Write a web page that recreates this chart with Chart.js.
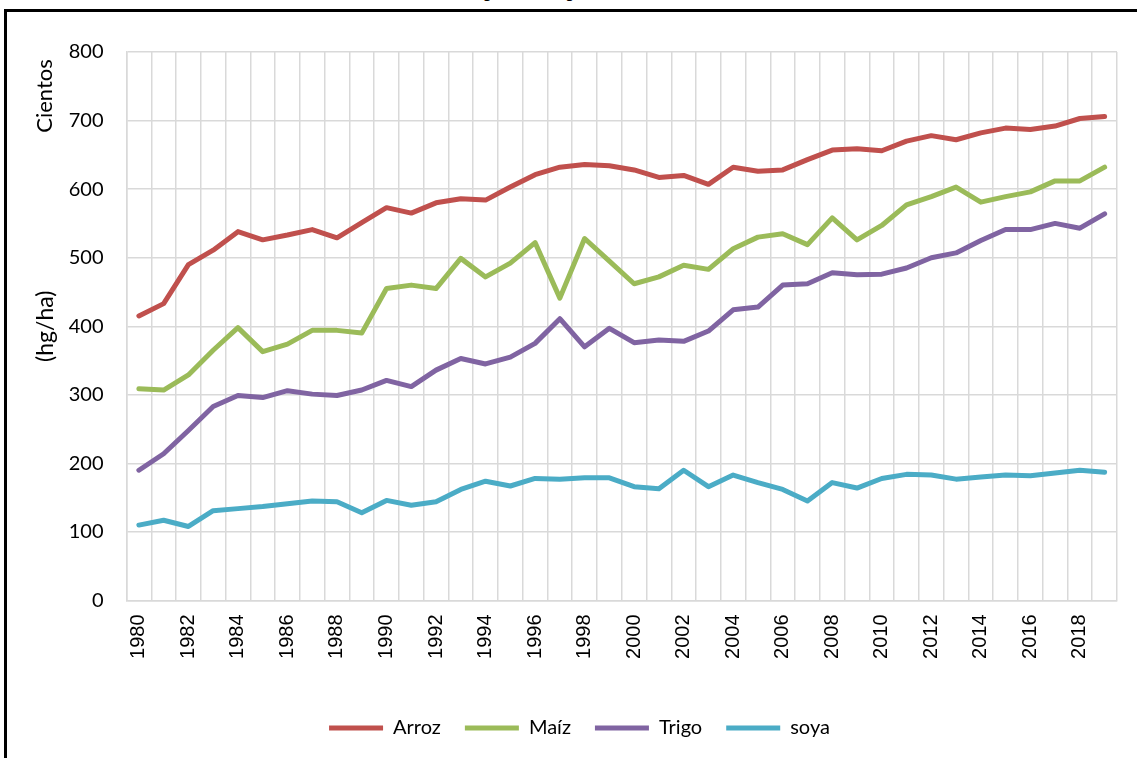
<!DOCTYPE html>
<html>
<head>
<meta charset="utf-8">
<script src="https://cdn.jsdelivr.net/npm/chart.js@4.4.1/dist/chart.umd.min.js"></script>
<style>
  html, body { margin: 0; padding: 0; background: #fff; overflow: hidden; }
  #wrap { position: relative; width: 1137px; height: 758px; overflow: hidden; }
  #frame { position: absolute; left: 4px; top: 9px; width: 1300px; height: 900px; border-left: 3px solid #000; border-top: 3px solid #000; }
  #title { position: absolute; left: 375px; top: -20px; line-height: 19px; font: bold 19px "Liberation Serif", "Times New Roman", serif; white-space: nowrap; }
  #chart { position: absolute; left: 0; top: 0; }
</style>
</head>
<body>
<div id="wrap">
  <div id="title">Rendimiento promedio por cultivo</div>
  <div id="frame"></div>
  <canvas id="chart" width="1137" height="758"></canvas>
</div>
<script>
const years = ["1980", "1981", "1982", "1983", "1984", "1985", "1986", "1987", "1988", "1989",
  "1990", "1991", "1992", "1993", "1994", "1995", "1996", "1997", "1998", "1999",
  "2000", "2001", "2002", "2003", "2004", "2005", "2006", "2007", "2008", "2009",
  "2010", "2011", "2012", "2013", "2014", "2015", "2016", "2017", "2018", "2019"];

const arroz = [415, 433, 490, 511, 538, 526, 533, 541, 529, 551, 573, 565, 580, 586, 584, 603, 621, 632, 636, 634,
  628, 617, 620, 607, 632, 626, 628, 643, 657, 659, 656, 670, 678, 672, 682, 689, 687, 692, 703, 706];
const maiz = [309, 307, 329, 365, 398, 363, 374, 394, 394, 390, 455, 460, 455, 499, 472, 492, 522, 441, 528, 495,
  462, 472, 489, 483, 513, 530, 535, 519, 558, 526, 547, 577, 589, 603, 581, 589, 596, 612, 612, 632];
const trigo = [190, 214, 248, 283, 299, 296, 306, 301, 299, 307, 321, 312, 336, 353, 345, 355, 375, 411, 370, 397,
  376, 380, 378, 393, 424, 428, 460, 462, 478, 475, 476, 485, 500, 507, 525, 541, 541, 550, 543, 564];
const soya = [110, 117, 108, 131, 134, 137, 141, 145, 144, 128, 146, 139, 144, 162, 174, 167, 178, 177, 179, 179,
  166, 163, 190, 166, 183, 172, 162, 145, 172, 164, 178, 184, 183, 177, 180, 183, 182, 186, 190, 187];

const seriesNames = ["Arroz", "Maíz", "Trigo", "soya"];
const seriesColors = ["#c0504d", "#9bbb59", "#8064a2", "#4bacc6"];
const yMin = 0;
const yMax = 800;
const yStep = 100;

const labelFont = "Lato, 'Noto Sans', sans-serif";
const gridColor = "#d9d9d9";

function lineDataset(name, values, color) {
  return {
    label: name,
    data: values,
    borderColor: color,
    backgroundColor: color,
    borderWidth: 5,
    borderCapStyle: "round",
    borderJoinStyle: "round",
    pointRadius: 0,
    pointHoverRadius: 0,
    tension: 0,
    fill: false,
  };
}

// Excel puts the display units label ("Cientos") next to the axis title
const cientosLabel = {
  id: "cientosLabel",
  afterDraw(chart) {
    const ctx = chart.ctx;
    ctx.save();
    ctx.translate(45, 96);
    ctx.rotate(-Math.PI / 2);
    ctx.font = "22px " + labelFont;
    ctx.fillStyle = "#000";
    ctx.textAlign = "center";
    ctx.textBaseline = "middle";
    ctx.fillText("Cientos", 0, 0);
    ctx.restore();
  }
};

Chart.defaults.color = "#000";

new Chart(document.getElementById("chart"), {
  type: "line",
  data: {
    labels: years,
    datasets: [
      lineDataset(seriesNames[0], arroz, seriesColors[0]),
      lineDataset(seriesNames[1], maiz, seriesColors[1]),
      lineDataset(seriesNames[2], trigo, seriesColors[2]),
      lineDataset(seriesNames[3], soya, seriesColors[3]),
    ]
  },
  options: {
    responsive: false,
    animation: false,
    devicePixelRatio: 1,
    layout: { padding: { top: 52, right: 20, left: 42, bottom: 10 } },
    plugins: {
      title: { display: false },
      tooltip: { enabled: false },
      legend: {
        position: "bottom",
        labels: {
          usePointStyle: true,
          pointStyle: "line",
          pointStyleWidth: 54,
          color: "#000",
          font: { family: labelFont, size: 20 },
          padding: 24,
        }
      }
    },
    scales: {
      x: {
        offset: true,
        grid: { color: gridColor, lineWidth: 1.5, drawTicks: false, offset: true },
        border: { color: gridColor, width: 1.5 },
        ticks: {
          autoSkip: false,
          maxRotation: 90,
          minRotation: 90,
          padding: 14,
          color: "#000",
          font: { family: "'Liberation Sans', Arial, sans-serif", size: 20 },
          callback(value, index) {
            return index % 2 === 0 ? this.getLabelForValue(value) : "";
          }
        },
        afterFit(scale) {
          scale.height = 93.5;
          scale.paddingLeft = 0;
          scale.paddingRight = 0;
        }
      },
      y: {
        min: yMin,
        max: yMax,
        grid: { color: gridColor, lineWidth: 1.5, drawTicks: false },
        border: { color: gridColor, width: 1.5 },
        ticks: {
          stepSize: yStep,
          padding: 23,
          color: "#000",
          font: { family: labelFont, size: 20 },
        },
        title: {
          display: true,
          text: "(hg/ha)",
          color: "#000",
          font: { family: labelFont, size: 23 },
          padding: { top: -10, bottom: 0 },
        },
        afterFit(scale) { scale.width = 84.5; }
      }
    }
  },
  plugins: [cientosLabel]
});
</script>
</body>
</html>
